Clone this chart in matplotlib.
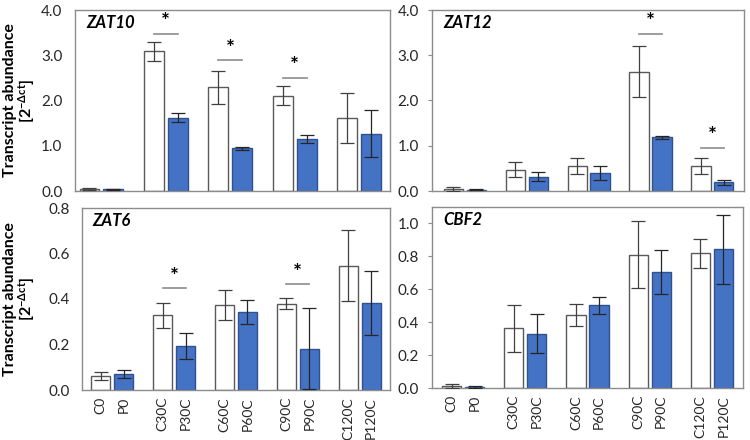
import numpy as np
import matplotlib
matplotlib.use("Agg")
import matplotlib.pyplot as plt

plt.rcParams['font.family'] = ['Lato', 'DejaVu Sans']
plt.rcParams['mathtext.fontset'] = 'custom'
plt.rcParams['mathtext.rm'] = 'Lato'
plt.rcParams['mathtext.bf'] = 'Lato:bold'
plt.rcParams['mathtext.fallback'] = 'stixsans'

# time points / sample labels
groups = ["0", "30C", "60C", "90C", "120C"]
tick_labels = ["C0", "P0", "C30C", "P30C", "C60C", "P60C", "C90C", "P90C", "C120C", "P120C"]

# ZAT10
zat10_c = [0.05, 3.09, 2.29, 2.11, 1.62]
zat10_c_err = [0.02, 0.21, 0.36, 0.22, 0.55]
zat10_p = [0.04, 1.62, 0.94, 1.14, 1.27]
zat10_p_err = [0.01, 0.10, 0.04, 0.09, 0.51]
zat10_sig = [1, 2, 3]
zat10_sig_y = [3.48, 2.89, 2.50]

# ZAT12
zat12_c = [0.05, 0.47, 0.56, 2.64, 0.56]
zat12_c_err = [0.04, 0.16, 0.18, 0.57, 0.18]
zat12_p = [0.03, 0.32, 0.40, 1.19, 0.19]
zat12_p_err = [0.01, 0.09, 0.16, 0.03, 0.05]
zat12_sig = [3, 4]
zat12_sig_y = [3.48, 0.96]

# ZAT6
zat6_c = [0.060, 0.329, 0.374, 0.380, 0.546]
zat6_c_err = [0.018, 0.055, 0.065, 0.026, 0.156]
zat6_p = [0.069, 0.192, 0.343, 0.181, 0.382]
zat6_p_err = [0.017, 0.057, 0.054, 0.178, 0.142]
zat6_sig = [1, 3]
zat6_sig_y = [0.448, 0.465]

# CBF2
cbf2_c = [0.012, 0.364, 0.442, 0.810, 0.818]
cbf2_c_err = [0.010, 0.143, 0.067, 0.205, 0.090]
cbf2_p = [0.008, 0.331, 0.503, 0.703, 0.842]
cbf2_p_err = [0.005, 0.118, 0.051, 0.133, 0.210]
cbf2_sig = []
cbf2_sig_y = []

W, H = 750, 440
fig = plt.figure(figsize=(7.5, 4.4), dpi=100)


def px_axes(x0, x1, y0, y1):
    return fig.add_axes([x0 / W, 1 - y1 / H, (x1 - x0) / W, (y1 - y0) / H])


panels = [
    # name, c, c_err, p, p_err, sig, sig_y, box, xlim, ylim, yticks, bottom_row, left_col
    ("ZAT10", zat10_c, zat10_c_err, zat10_p, zat10_p_err, zat10_sig, zat10_sig_y,
     (75, 390, 10, 191), (-0.41, 4.48), (0, 4.0), np.arange(0, 4.01, 1.0), False, True),
    ("ZAT12", zat12_c, zat12_c_err, zat12_p, zat12_p_err, zat12_sig, zat12_sig_y,
     (432, 744, 10, 191), (-0.53, 4.51), (0, 4.0), np.arange(0, 4.01, 1.0), False, False),
    ("ZAT6", zat6_c, zat6_c_err, zat6_p, zat6_p_err, zat6_sig, zat6_sig_y,
     (82, 390, 208, 390), (-0.49, 4.49), (0, 0.8), np.arange(0, 0.81, 0.2), True, True),
    ("CBF2", cbf2_c, cbf2_c_err, cbf2_p, cbf2_p_err, cbf2_sig, cbf2_sig_y,
     (432, 743, 207, 388), (-0.5, 4.5), (0, 1.1), np.arange(0, 1.01, 0.2), True, False),
]

off = 0.185
bw = 0.31
x = np.arange(len(groups))
spine_col = "#8c8c8c"

for name, c, ce, p, pe, sig, sig_y, box, xlim, ylim, yticks, bottom, left in panels:
    ax = px_axes(*box)
    ax.bar(x - off, c, bw, color="white", edgecolor="#595959", linewidth=1.0, zorder=2)
    ax.bar(x + off, p, bw, color="#4472C4", edgecolor="#2F528F", linewidth=1.0, zorder=2)
    ax.errorbar(x - off, c, yerr=ce, fmt="none", ecolor="#404040", elinewidth=0.9,
                capsize=5, capthick=0.9, zorder=3)
    ax.errorbar(x + off, p, yerr=pe, fmt="none", ecolor="#262626", elinewidth=0.9,
                capsize=5, capthick=0.9, zorder=3)
    for g, yy in zip(sig, sig_y):
        ax.plot([g - off, g + off], [yy, yy], color="#8c8c8c", lw=1.2, zorder=3)
        ax.annotate("*", (g, yy), xytext=(0, 1), textcoords="offset points",
                    ha="center", va="bottom", fontsize=15, fontweight="bold")
    ax.set_xlim(*xlim)
    ax.set_ylim(*ylim)
    ax.set_yticks(yticks)
    ax.set_yticklabels([f"{v:.1f}" for v in yticks])
    if left:
        ax.tick_params(axis="y", labelsize=11, length=0, pad=9,
                       labelcolor="#262626")
    else:
        ax.tick_params(axis="y", labelsize=11, length=3, pad=6.5,
                       color=spine_col, labelcolor="#262626")
    if bottom:
        pos = np.ravel(np.column_stack([x - off, x + off]))
        ax.set_xticks(pos)
        ax.set_xticklabels(tick_labels, rotation=90, fontsize=10, color="#262626")
        ax.tick_params(axis="x", length=0, pad=5)
    else:
        ax.set_xticks([])
    for s in ax.spines.values():
        s.set_color(spine_col)
        s.set_linewidth(1.0)
    ax.text(0.035, 0.93, name, transform=ax.transAxes, fontsize=12,
            fontweight="bold", fontstyle="italic", ha="left", va="center")
    if left:
        yc = 1 - (box[2] + box[3]) / 2 / H
        fig.text(10 / W, yc, "Transcript abundance", rotation=90, ha="center",
                 va="center", fontsize=11.5, fontweight="bold")
        fig.text(27 / W, yc, r"$\mathbf{[2^{-\Delta ct}]}$", rotation=90, ha="center",
                 va="center", fontsize=11.5)

fig.savefig("out.png", dpi=100)
